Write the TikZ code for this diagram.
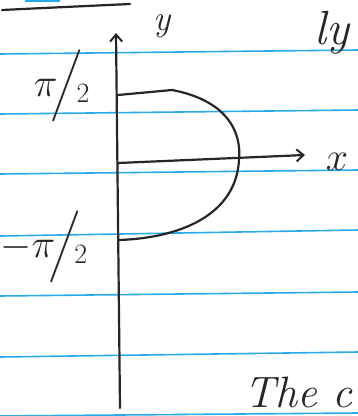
\RequirePackage{fix-cm}
\documentclass[tikz,border=0pt]{standalone}
\usepackage{xcolor}
\usepackage{amsmath}
\usepackage{amssymb}
\usepackage{tikz}
\usetikzlibrary{arrows.meta}
\definecolor{ruleblue}{RGB}{40,170,235}
\definecolor{ink}{RGB}{38,38,42}
\tikzset{
rule line/.style = { draw = ruleblue, line width = 1.6pt },
pen/.style = { draw = ink, line width = 2.2pt, line cap = round, line join = round },
axis arrow/.style = { pen, -{Straight Barb[length = 7pt, width = 12pt, line width = 2pt]} },
hand/.style = { ink, inner sep = 0pt, font = \fontsize{26}{30}\selectfont },
}
\begin{document}
\begin{tikzpicture}[x = 1pt, y = -1pt]
    \useasboundingbox[fill = white] (0, 0) rectangle (358, 416);
    \path[rule line] (0, 54) -- (358, 50);
    \path[rule line] (0, 114) -- (358, 110);
    \path[rule line] (0, 174) -- (358, 170);
    \path[rule line] (0, 236) -- (358, 230);
    \path[rule line] (0, 296) -- (358, 292);
    \path[rule line] (0, 357) -- (358, 352);
    \path[rule line] (0, 416) -- (358, 413);
    \path[rule line] (25, 1) -- (60, 1);
    \path[pen] (2, 10) -- (65, 7) -- (130, 4);
    \coordinate (ytop) at (116, 33);
    \coordinate (ybot) at (120, 408);
    \coordinate (O) at (118, 163);
    \coordinate (xend) at (305, 155);
    \coordinate (ptop) at (118, 95);
    \coordinate (pbot) at (119, 240);
    \draw[axis arrow] (ybot) -- (ytop);
    \draw[axis arrow] (O) -- (xend);
    \draw[pen] (ptop) -- (172, 90) .. controls (225, 100) and (242, 130) .. (239, 160) .. controls (236, 215) and (180, 238) .. (pbot);
    \node[hand, font = \fontsize{36}{40}\selectfont\itshape] (ylabel) at (162, 26) {y};
    \node[hand, font = \fontsize{40}{44}\selectfont] (xlabel) at (337, 162) {$x$};
    \node[hand, font = \fontsize{40}{44}\selectfont] (pihalf) at (62, 86) {$\pi\!\Big/\!_{2}$};
    \node[hand, font = \fontsize{40}{44}\selectfont] (mpihalf) at (44, 247) {$-\pi\!\Big/\!_{2}$};
    \begin{scope}
        \clip (0, 0) rectangle (358, 416);
        \node[hand, anchor = west, font = \fontsize{48}{52}\selectfont\itshape] (ly) at (314, 33) {ly};
        \node[hand, anchor = west, font = \fontsize{44}{48}\selectfont\itshape] (thec) at (244, 392) {The c};
    \end{scope}
\end{tikzpicture}
\end{document}
